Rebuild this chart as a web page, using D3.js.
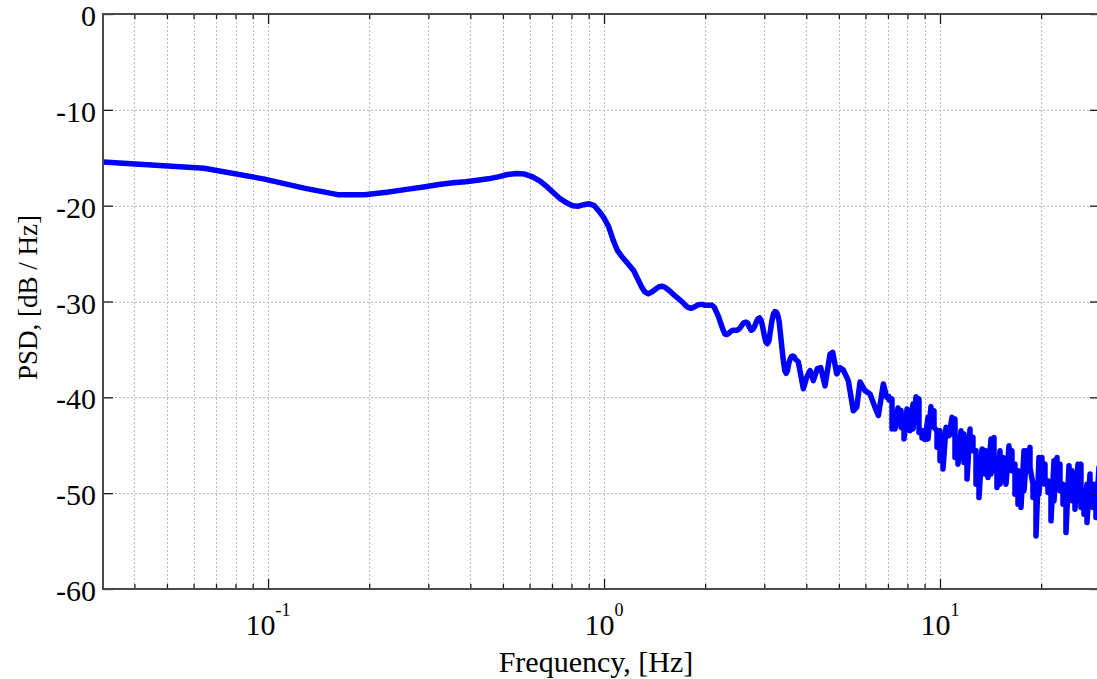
<!DOCTYPE html>
<html>
<head>
<meta charset="utf-8">
<script src="https://cdn.jsdelivr.net/npm/d3@7"></script>
<style>
  html, body { margin: 0; padding: 0; background: #fff; }
  svg { display: block; }
  text { font-family: "Liberation Serif", "Times New Roman", serif; fill: #000; }
</style>
</head>
<body>
<svg id="chart" width="1097" height="679"></svg>
<script>
// Power spectral density estimate, frequency in Hz, level in dB/Hz.
// Below ~7 Hz the estimate is a single smooth trace.
const freqHz = [
  0.0323, 0.0645, 0.0968, 0.1290, 0.1613, 0.1935, 0.2258, 0.2581, 0.2903, 0.3226,
  0.3548, 0.3871, 0.4194, 0.4516, 0.4839, 0.5161, 0.5484, 0.5806, 0.6129, 0.6452,
  0.6774, 0.7097, 0.7419, 0.7742, 0.8065, 0.8387, 0.8710, 0.9032, 0.9355, 0.9677,
  1.0000, 1.0323, 1.0645, 1.0968, 1.1290, 1.1613, 1.1935, 1.2258, 1.2581, 1.2903,
  1.3226, 1.3548, 1.3871, 1.4194, 1.4516, 1.4839, 1.5161, 1.5484, 1.5806, 1.6129,
  1.6452, 1.6774, 1.7097, 1.7419, 1.7742, 1.8065, 1.8387, 1.8710, 1.9032, 1.9355,
  1.9677, 2.0000, 2.0323, 2.0645, 2.0968, 2.1290, 2.1613, 2.1935, 2.2258, 2.2581,
  2.2903, 2.3226, 2.3548, 2.3871, 2.4194, 2.4516, 2.4839, 2.5161, 2.5484, 2.5806,
  2.6129, 2.6452, 2.6774, 2.7097, 2.7419, 2.7742, 2.8065, 2.8387, 2.8710, 2.9032,
  2.9355, 2.9677, 3.0000, 3.0323, 3.0645, 3.0968, 3.1290, 3.1613, 3.1935, 3.2258,
  3.2581, 3.2903, 3.3226, 3.3548, 3.3871, 3.4194, 3.4516, 3.4839, 3.5161, 3.5484,
  3.5806, 3.6129, 3.6452, 3.6774, 3.7097,
  3.787, 3.920, 4.012, 4.104, 4.197, 4.313, 4.415, 4.547, 4.706, 4.794,
  4.927, 5.040, 5.155, 5.334, 5.521, 5.651, 5.780, 5.981, 6.191, 6.406,
  6.554, 6.783, 6.942
];

const psdDb = [
  -15.45, -16.1, -17.2, -18.2, -18.85, -18.85, -18.6, -18.3, -18.05, -17.8,
  -17.6, -17.5, -17.35, -17.2, -17.0, -16.75, -16.65, -16.7, -17.0, -17.45,
  -18.05, -18.7, -19.3, -19.7, -20.0, -20.05, -19.9, -19.8, -20.0, -20.6,
  -21.3, -22.2, -23.6, -24.7, -25.3, -25.8, -26.3, -26.8, -27.6, -28.4,
  -29.0, -29.2, -29.0, -28.75, -28.5, -28.4, -28.5, -28.75, -29.0, -29.3,
  -29.55, -29.8, -30.05, -30.35, -30.6, -30.7, -30.65, -30.5, -30.35, -30.3,
  -30.3, -30.4, -30.4, -30.4, -30.4, -30.6, -31.1, -31.6, -32.3, -32.9,
  -33.4, -33.45, -33.3, -33.1, -33.0, -33.0, -33.0, -32.9, -32.7, -32.4,
  -32.2, -32.15, -32.25, -32.7, -33.0, -32.9, -32.6, -32.15, -31.8, -31.7,
  -32.0, -32.7, -33.55, -34.25, -34.4, -34.1, -33.0, -32.0, -31.3, -31.05,
  -31.1, -31.45, -32.15, -33.55, -34.95, -36.2, -37.2, -37.5, -37.2, -36.45,
  -36.0, -35.75, -35.7, -35.75, -36.0,
  -36.3, -39.1, -37.9, -37.2, -38.25, -37.0, -36.9, -38.8, -35.5, -35.3,
  -37.55, -36.9, -37.15, -38.25, -41.4, -41.05, -38.4, -39.3, -39.65, -41.05,
  -41.9, -38.6, -40.0
];

// Above ~7 Hz the estimate swings rapidly between neighbouring bins;
// each entry gives the upper and lower level reached around that frequency.
const bandFreqHz = [
  7.050, 7.197, 7.346, 7.499, 7.655, 7.814, 7.977, 8.143, 8.312, 8.485,
  8.660, 8.841, 9.025, 9.210, 9.402, 9.597, 9.797, 10.000, 10.208, 10.420,
  10.636, 10.857, 11.083, 11.313, 11.548, 11.788, 12.033, 12.283, 12.538, 12.799,
  13.064, 13.335, 13.612, 13.895, 14.184, 14.478, 14.778, 15.085, 15.399, 15.719,
  16.045, 16.379, 16.718, 17.066, 17.420, 17.783, 18.152, 18.529, 18.914, 19.307,
  19.708, 20.117, 20.535, 20.962, 21.397, 21.842, 22.295, 22.758, 23.231, 23.714,
  24.207, 24.709, 25.223, 25.746, 26.281, 26.827, 27.384, 27.953, 28.534, 29.126,
  29.731
];
const bandUpperDb = [
  -39.93, -40.17, -41.57, -41.11, -41.39, -43.31, -41.22, -41.39, -40.69, -39.93,
  -40.17, -43.48, -43.83, -42.09, -40.97, -41.39, -43.48, -43.48, -44.18, -43.13,
  -43.20, -42.09, -42.26, -45.22, -43.48, -43.83, -44.88, -43.31, -44.18, -45.57,
  -46.27, -45.40, -45.57, -45.57, -44.35, -44.18, -46.62, -45.57, -46.27, -46.62,
  -45.05, -45.57, -46.97, -47.66, -49.75, -45.57, -45.57, -45.22, -49.06, -50.10,
  -46.27, -46.27, -46.97, -48.71, -49.06, -46.62, -46.27, -46.97, -49.06, -49.75,
  -47.14, -47.66, -49.75, -46.97, -46.97, -49.75, -49.06, -48.01, -49.06, -49.06,
  -47.31
];
const bandLowerDb = [
  -40.28, -43.31, -43.31, -41.46, -43.13, -44.35, -42.96, -43.48, -43.31, -40.35,
  -43.66, -44.25, -44.39, -44.35, -42.09, -43.13, -45.22, -46.62, -47.49, -43.83,
  -44.00, -43.83, -46.27, -46.97, -45.57, -46.79, -48.53, -44.53, -45.57, -49.06,
  -50.45, -46.27, -48.01, -48.36, -48.01, -47.66, -49.40, -49.06, -48.71, -49.06,
  -47.31, -47.66, -50.10, -51.15, -51.49, -49.75, -47.14, -47.31, -50.45, -54.46,
  -50.10, -47.66, -49.06, -49.93, -52.89, -50.80, -47.66, -49.75, -51.15, -54.11,
  -49.75, -50.80, -51.67, -50.10, -51.49, -52.19, -53.06, -50.45, -51.49, -52.54,
  -51.84
];

const xDomain = [0.03226, 29.94];
const yDomain = [-60, 0];
const xMajorTicks = [0.1, 1, 10];
const xMajorExponents = ["-1", "0", "1"];
const xMinorTicks = [0.04, 0.05, 0.06, 0.07, 0.08, 0.09,
                     0.2, 0.3, 0.4, 0.5, 0.6, 0.7, 0.8, 0.9,
                     2, 3, 4, 5, 6, 7, 8, 9, 20];
const yTicks = [0, -10, -20, -30, -40, -50, -60];

const xAxisTitle = "Frequency, [Hz]";
const yAxisTitle = "PSD, [dB / Hz]";

const plot = { left: 103, top: 14, right: 1100, bottom: 589 };

const svg = d3.select("#chart");

const x = d3.scaleLog().domain(xDomain).range([plot.left, plot.right]);
const y = d3.scaleLinear().domain(yDomain).range([plot.bottom, plot.top]);

// Dotted grid at every major and minor decade tick, and at each 10 dB
const grid = svg.append("g").attr("class", "grid")
  .attr("stroke", "#bdbdbd").attr("stroke-width", 1)
  .attr("stroke-dasharray", "2,2").attr("fill", "none");

grid.selectAll("line.gx")
  .data(xMajorTicks.concat(xMinorTicks))
  .join("line")
  .attr("class", "gx")
  .attr("x1", d => Math.round(x(d)) + 0.5).attr("x2", d => Math.round(x(d)) + 0.5)
  .attr("y1", plot.top).attr("y2", plot.bottom);

grid.selectAll("line.gy")
  .data(yTicks.slice(1, -1))
  .join("line")
  .attr("class", "gy")
  .attr("x1", plot.left).attr("x2", plot.right)
  .attr("y1", d => Math.round(y(d)) + 0.5).attr("y2", d => Math.round(y(d)) + 0.5);

// PSD trace, clipped to the plot box
svg.append("clipPath").attr("id", "plotClip")
  .append("rect")
  .attr("x", plot.left).attr("y", plot.top)
  .attr("width", plot.right - plot.left).attr("height", plot.bottom - plot.top);

const series = freqHz.map((f, i) => ({ f, v: psdDb[i] }));
bandFreqHz.forEach((f, i) => {
  series.push({ f, v: bandUpperDb[i] });
  series.push({ f, v: bandLowerDb[i] });
});

const line = d3.line().x(d => x(d.f)).y(d => y(d.v));

svg.append("path")
  .datum(series)
  .attr("clip-path", "url(#plotClip)")
  .attr("fill", "none")
  .attr("stroke", "#0000ff")
  .attr("stroke-width", 5.5)
  .attr("stroke-linejoin", "round")
  .attr("stroke-linecap", "round")
  .attr("d", line);

// Inward ticks on all four sides
function styleTicks(g) {
  g.select(".domain").remove();
  g.selectAll(".tick line").attr("stroke", "#1a1a1a").attr("stroke-width", 1.3);
  g.selectAll(".tick text").remove();
}

const axes = svg.append("g").attr("class", "axes");

axes.append("g").attr("transform", `translate(0,${plot.bottom})`)
  .call(d3.axisBottom(x).tickValues(xMajorTicks).tickSize(-10)).call(styleTicks);
axes.append("g").attr("transform", `translate(0,${plot.bottom})`)
  .call(d3.axisBottom(x).tickValues(xMinorTicks).tickSize(-5)).call(styleTicks);
axes.append("g").attr("transform", `translate(0,${plot.top})`)
  .call(d3.axisTop(x).tickValues(xMajorTicks).tickSize(-10)).call(styleTicks);
axes.append("g").attr("transform", `translate(0,${plot.top})`)
  .call(d3.axisTop(x).tickValues(xMinorTicks).tickSize(-5)).call(styleTicks);
axes.append("g").attr("transform", `translate(${plot.left},0)`)
  .call(d3.axisLeft(y).tickValues(yTicks).tickSize(-10)).call(styleTicks);
axes.append("g").attr("transform", `translate(${plot.right},0)`)
  .call(d3.axisRight(y).tickValues(yTicks).tickSize(-10)).call(styleTicks);

// Box frame
svg.append("rect")
  .attr("x", plot.left).attr("y", plot.top)
  .attr("width", plot.right - plot.left).attr("height", plot.bottom - plot.top)
  .attr("fill", "none").attr("stroke", "#4a4a4a").attr("stroke-width", 2);

// Y tick labels (plain hyphen for the minus sign)
svg.append("g").selectAll("text")
  .data(yTicks)
  .join("text")
  .attr("x", plot.left - 7)
  .attr("y", d => y(d))
  .attr("dy", "0.4em")
  .attr("text-anchor", "end")
  .attr("font-size", 30)
  .text(d => String(d));

// X tick labels as powers of ten
const xLabels = svg.append("g").selectAll("text")
  .data(xMajorTicks)
  .join("text")
  .attr("x", d => x(d))
  .attr("y", 635)
  .attr("text-anchor", "middle")
  .attr("font-size", 30);
xLabels.append("tspan").text("10");
xLabels.append("tspan")
  .attr("font-size", 18)
  .attr("dy", -19)
  .text((d, i) => xMajorExponents[i]);

// Axis titles
svg.append("text")
  .attr("x", 596)
  .attr("y", 672)
  .attr("text-anchor", "middle")
  .attr("font-size", 30)
  .text(xAxisTitle);

svg.append("text")
  .attr("transform", `translate(37,${(plot.top + plot.bottom) / 2 - 4}) rotate(-90)`)
  .attr("text-anchor", "middle")
  .attr("font-size", 27)
  .text(yAxisTitle);
</script>
</body>
</html>
